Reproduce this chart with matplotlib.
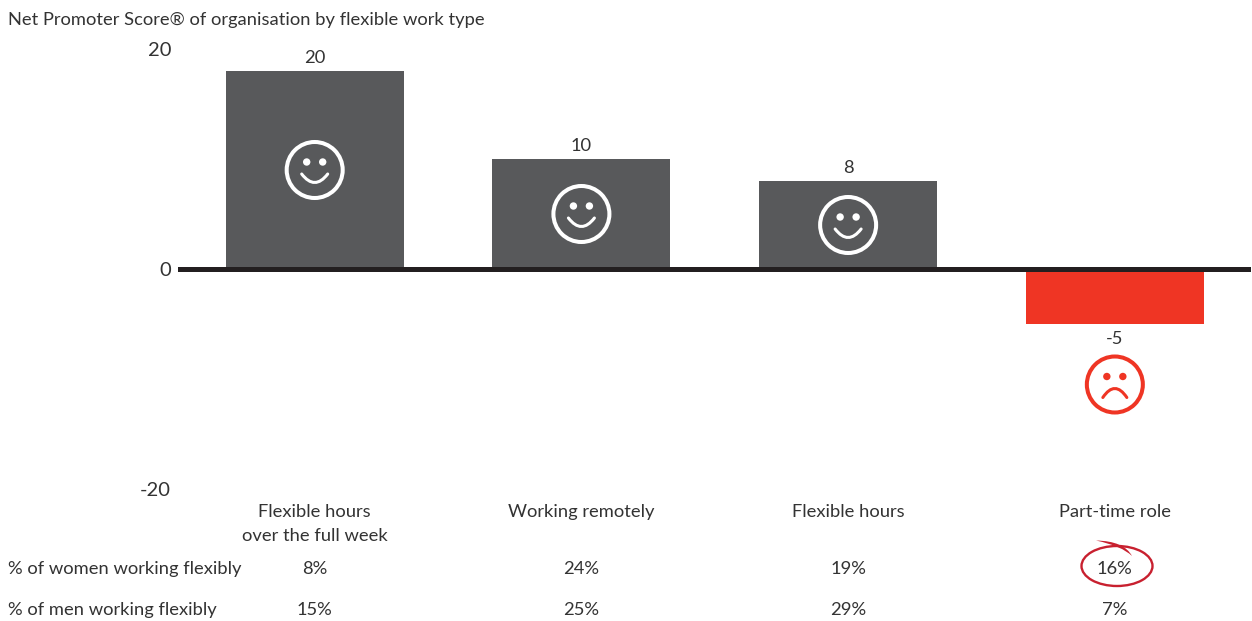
import matplotlib
matplotlib.use('Agg')
from matplotlib import pyplot as plt
from matplotlib.patches import Circle, Ellipse, PathPatch
from matplotlib.path import Path
from matplotlib.transforms import Affine2D, blended_transform_factory

categories = ['Flexible hours\nover the full week', 'Working remotely', 'Flexible hours', 'Part-time role']
bar_heights = [18, 10, 8, -5]
bar_labels = ['20', '10', '8', '-5']
women = ['8%', '24%', '19%', '16%']
men = ['15%', '25%', '29%', '7%']
y_ticks = [-20, 0, 20]
title = 'Net Promoter Score® of organisation by flexible work type'

GREY = '#58595b'
RED = '#ef3524'
CIRCLE_RED = '#c8202f'
LINE = '#231f20'
TEXT = '#333333'
W, H = 1252, 621
FS = 13.2

plt.rcParams['font.family'] = ['Lato', 'DejaVu Sans']
plt.rcParams['font.size'] = FS
plt.rcParams['axes.unicode_minus'] = False

fig = plt.figure(figsize=(W / 100, H / 100), dpi=100)
ax = fig.add_axes([178 / W, 1 - 489 / H, (1251 - 178) / W, 440 / H])
ax.set_xlim(-0.5125, 3.5105)
ax.set_ylim(-20, 20)

# top left pixel coords, like the reference
px = Affine2D().scale(1, -1).translate(0, H)
row = blended_transform_factory(ax.transData, px)

xs = range(len(categories))
colors = [GREY if v > 0 else RED for v in bar_heights]
ax.bar(xs, bar_heights, width=0.667, color=colors, zorder=2)
ax.axhline(0, color=LINE, lw=3.6, zorder=3)

for s in ax.spines.values():
    s.set_visible(False)
ax.set_xticks([])
ax.set_yticks(y_ticks)
ax.tick_params(axis='y', length=0, pad=5, labelcolor=TEXT, labelsize=14.5)

for x, h, lab in zip(xs, bar_heights, bar_labels):
    if h > 0:
        ax.annotate(lab, (x, h), xytext=(0, 3.5), textcoords='offset points', ha='center', va='bottom', color=TEXT)
    else:
        ax.annotate(lab, (x, h), xytext=(0, -5), textcoords='offset points', ha='center', va='top', color=TEXT)


def face(x, y, color, happy=True):
    cx, cy = ax.transData.transform((x, y))
    t = Affine2D().translate(cx, cy)
    ax.add_patch(Circle((0, 0), 28, fill=False, ec=color, lw=2.9, transform=t, zorder=4))
    for dx in (-8, 8):
        ax.add_patch(Circle((dx, 8), 3.7, color=color, lw=0, transform=t, zorder=4))
    if happy:
        verts = [(-13, -4), (0, -21), (13, -4)]
    else:
        verts = [(-12, -13), (0, 5), (12, -13)]
    mouth = Path(verts, [Path.MOVETO, Path.CURVE3, Path.CURVE3])
    ax.add_patch(PathPatch(mouth, fill=False, ec=color, lw=2.2, capstyle='round', transform=t, zorder=4))


face(0, 9, 'white')
face(1, 5, 'white')
face(2, 4, 'white')
face(3, -10.5, RED, happy=False)

fig.text(8, 20, title, transform=px, ha='left', va='center', color=TEXT)

for x, c in zip(xs, categories):
    ax.text(x, 504, c, transform=row, ha='center', va='top', color=TEXT, linespacing=1.6, clip_on=False)
for x, w, m in zip(xs, women, men):
    ax.text(x, 569, w, transform=row, ha='center', va='center', color=TEXT, clip_on=False)
    ax.text(x, 610, m, transform=row, ha='center', va='center', color=TEXT, clip_on=False)
fig.text(8, 569, '% of women working flexibly', transform=px, ha='left', va='center', color=TEXT)
fig.text(8, 610, '% of men working flexibly', transform=px, ha='left', va='center', color=TEXT)

# hand drawn ring round the 16%
ax.add_patch(Ellipse((1117, 566), 71, 40, fill=False, ec=CIRCLE_RED, lw=1.7, clip_on=False, transform=px))
swoosh = Path([(1096, 540.5), (1124, 541), (1132, 556), (1122, 546), (1096, 540.5)],
              [Path.MOVETO, Path.CURVE3, Path.CURVE3, Path.CURVE3, Path.CURVE3])
ax.add_patch(PathPatch(swoosh, fc=CIRCLE_RED, ec='none', transform=px, clip_on=False))

fig.savefig('out.png', dpi=100)
